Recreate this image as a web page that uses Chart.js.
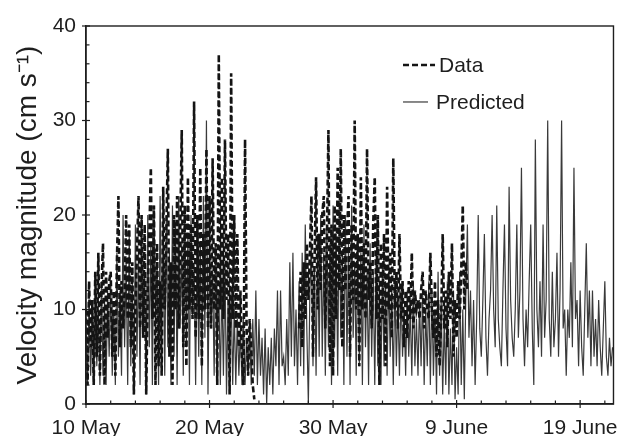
<!DOCTYPE html>
<html><head><meta charset="utf-8">
<script src="https://cdn.jsdelivr.net/npm/chart.js@4"></script>
<style>html,body{margin:0;padding:0;background:#fff}#wrap{width:630px;height:436px;position:relative}</style>
</head><body><div id="wrap"><canvas id="c" width="630" height="436"></canvas></div>
<script>
// 3-hourly samples starting 10 May 00:00 (x in days since 10 May)
const sampleStepDays = 0.125;
const xTickDays = [0, 10, 20, 30, 40];
const xTickLabels = ['10 May', '20 May', '30 May', '9 June', '19 June'];
const yTicks = [0, 10, 20, 30, 40];
const seriesNames = ['Data', 'Predicted'];

const predicted = [
 8,2,11,3,9,2,12,4,
 10,2,13,3,11,2,12,5,
 13,3,10,2,16,5,12,3,
 20,6,15,2,18,4,13,1,
 19,5,16,2,20,7,14,1,
 20,6,17,2,21,8,15,2,
 22,7,18,3,20,6,16,2,
 21,5,19,2,22,8,17,3,
 21,6,18,2,20,9,15,2,
 19,5,17,2,22,7,30,1,
 17,8,14,3,17,6,12,2,
 13,3,15,1,11,4,12,2,
 10,2,9,3,8,2,9,2,
 7,3,8,2,9,3,12,2,
 9,3,7,1,8,0,6,2,
 7,1,8,4,12,2,12,4,
 5,2,9,3,15,5,16,4,
 10,2,13,4,16,3,19,8,
 0,12,17,4,14,3,18,5,
 20,5,16,3,19,6,17,2,
 21,6,18,3,22,7,16,2,
 20,5,17,2,21,7,15,3,
 18,4,16,2,19,6,14,2,
 17,5,14,2,16,4,13,2,
 15,4,13,3,14,5,12,2,
 13,4,11,3,12,5,10,3,
 12,5,10,3,13,4,9,3,
 11,4,12,2,10,4,13,2,
 12,3,10,1,14,3,11,1,
 9,2,13,1,8,2,12,0.5,
 6,1,14,2,10,0.5,12,19,
 7,12,4,11,2,9,20,8,
 5,11,18,7,3,9,12,20,
 10,6,21,9,6,4,12,19,
 8,4,23,11,7,5,10,19,
 7,12,25,9,4,10,6,13,
 19,8,2,28,10,6,13,5,
 19,7,11,30,9,5,14,6,
 9,16,5,12,30,8,10,3,
 10,7,15,6,25,9,11,4,
 12,6,3,10,17,7,12,4,
 12,5,9,4,11,6,3,8,
 13,5,3,7,4,6
];

const observed = [
 10,2,13,6,11,2,14,5,
 16,3,12,17,2,14,7,13,
 14,5,12,3,15,22,6,13,
 8,12,20,9,19,6,15,1,
 10,16,22,8,20,7,19,1,
 12,18,25,9,21,2,17,4,
 13,3,23,10,18,27,5,15,
 2,20,10,22,8,18,29,6,
 21,4,24,10,19,9,32,7,
 20,9,25,4,18,10,27,8,
 22,8,26,10,17,2,37,10,
 24,9,28,11,18,1,35,9,
 20,8,18,6,12,5,2,28,
 8,3,9,6,2,0.5,null,null,
 null,null,null,null,null,null,null,null,
 null,null,null,null,null,null,null,null,
 null,null,null,null,null,null,null,null,
 null,null,8,14,6,15,9,17,
 11,16,22,5,15,24,10,18,
 12,20,22,8,17,29,4,19,
 3,21,9,25,12,27,6,20,
 12,18,22,5,19,11,30,10,
 18,4,24,10,17,9,27,11,
 15,8,19,24,9,20,2,17,
 9,18,4,23,10,16,7,26,
 10,14,8,18,9,13,6,12,
 7,13,9,16,8,12,10,11,
 9,12,14,8,12,10,9,16,
 10,7,13,5,11,4,9,18,
 8,12,6,14,9,17,5,11,
 7,13,9,14,21,10,15,12
];

const toPoints = arr => arr.map((v, i) => ({ x: i * sampleStepDays, y: v }));

const INK = '#1e1e1e';
const FONT = "'Liberation Sans', Arial, Helvetica, sans-serif";

const framePlugin = {
  id: 'frameTicksLegend',
  afterDatasetsDraw(chart) {
    const { ctx, chartArea: a, scales: { x, y } } = chart;
    ctx.save();
    ctx.strokeStyle = INK;
    ctx.lineWidth = 1.4;
    ctx.setLineDash([]);
    ctx.strokeRect(a.left, a.top, a.right - a.left, a.bottom - a.top);
    ctx.lineWidth = 1.2;
    for (let v = 0; v <= x.max; v += 2) {
      const px = x.getPixelForValue(v);
      const major = v % 10 === 0;
      ctx.beginPath();
      ctx.moveTo(px, a.bottom + (major ? 4 : 0));
      ctx.lineTo(px, a.bottom - (major ? 4 : 3.5));
      ctx.stroke();
    }
    for (let v = 0; v <= y.max; v += 2) {
      const py = y.getPixelForValue(v);
      const major = v % 10 === 0;
      ctx.beginPath();
      ctx.moveTo(a.left - (major ? 4 : 0), py);
      ctx.lineTo(a.left + (major ? 4 : 3.5), py);
      ctx.stroke();
    }
    // legend
    const ds = chart.data.datasets;
    const lx = a.left + (a.right - a.left) * 0.601;
    const rows = [a.top + (a.bottom - a.top) * 0.103, a.top + (a.bottom - a.top) * 0.201];
    const sampleLen = [32, 25];
    const textGap = [4, 8];
    ctx.font = '21px ' + FONT;
    ctx.textBaseline = 'middle';
    ctx.textAlign = 'left';
    ds.forEach((d, i) => {
      ctx.strokeStyle = d.borderColor;
      ctx.lineWidth = d.borderWidth;
      ctx.setLineDash(d.borderDash || []);
      ctx.beginPath();
      ctx.moveTo(lx, rows[i]);
      ctx.lineTo(lx + sampleLen[i], rows[i]);
      ctx.stroke();
      ctx.setLineDash([]);
      ctx.fillStyle = INK;
      ctx.fillText(d.label, lx + sampleLen[i] + textGap[i], rows[i] + 1);
    });
    ctx.restore();
  }
};

new Chart(document.getElementById('c'), {
  type: 'line',
  data: {
    datasets: [
      { label: seriesNames[0], data: toPoints(observed), borderColor: '#141414', borderWidth: 2.6,
        borderDash: [6, 3], pointRadius: 0, tension: 0, spanGaps: false, fill: false },
      { label: seriesNames[1], data: toPoints(predicted), borderColor: '#3a3a3a', borderWidth: 1.2,
        pointRadius: 0, tension: 0, fill: false }
    ]
  },
  options: {
    responsive: false,
    devicePixelRatio: 1,
    animation: false,
    events: [],
    layout: { padding: { top: 26, right: 8, left: 0, bottom: 0 } },
    plugins: { legend: { display: false }, tooltip: { enabled: false } },
    scales: {
      x: {
        type: 'linear', min: 0, max: 42.7,
        afterFit: s => { s.height = 32; },
        grid: { display: false, drawTicks: false },
        border: { display: true, color: INK, width: 1.4 },
        ticks: {
          stepSize: 10, includeBounds: false, autoSkip: false, maxRotation: 0,
          padding: 12, color: INK, font: { family: FONT, size: 21 },
          callback: v => { const k = xTickDays.indexOf(v); return k >= 0 ? xTickLabels[k] : ''; }
        }
      },
      y: {
        type: 'linear', min: 0, max: 40,
        afterFit: s => { s.width = 86; },
        grid: { display: false, drawTicks: false },
        border: { display: true, color: INK, width: 1.4 },
        ticks: {
          stepSize: 10, padding: 10, color: INK, font: { family: FONT, size: 21 },
          callback: v => yTicks.includes(v) ? String(v) : ''
        },
        title: {
          display: true, text: 'Velocity magnitude (cm s\u207B\u00B9)', color: INK,
          font: { family: FONT, size: 28 }, padding: { top: 11, bottom: 0 }
        }
      }
    }
  },
  plugins: [framePlugin]
});
</script></body></html>
